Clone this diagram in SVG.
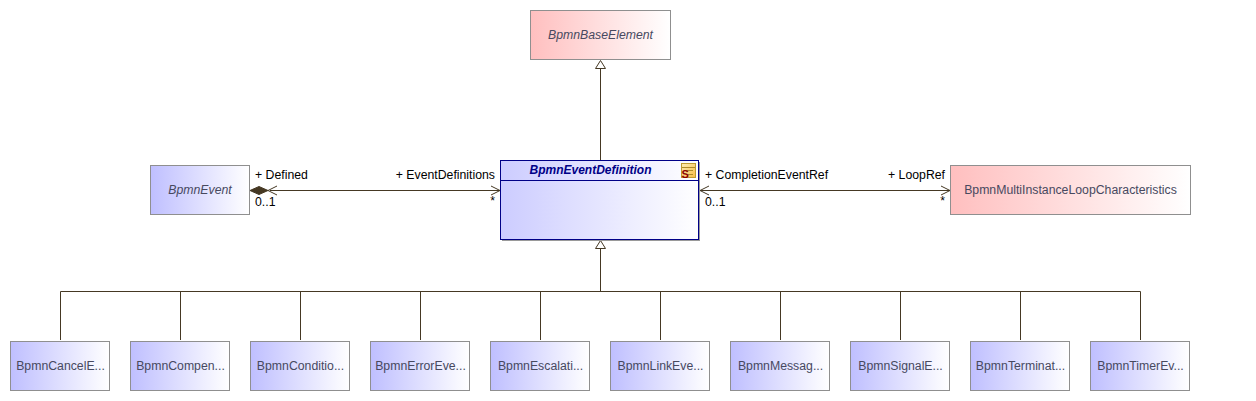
<svg xmlns="http://www.w3.org/2000/svg" width="1256" height="401" viewBox="0 0 1256 401">
<style>
text{font-family:"Liberation Sans",Arial,sans-serif;font-size:12.27px}
.n{stroke:#8f8f8f;stroke-width:1;shape-rendering:crispEdges}
.l{fill:#47495f;text-anchor:middle}
.c{fill:none;stroke:#453823;stroke-width:1}
.t{fill:#000}
.v{fill:#fff;stroke:#453823;stroke-width:1}
</style>
<defs>
<linearGradient id="b"><stop offset="0" stop-color="#bfbfff"/><stop offset="1" stop-color="#fff"/></linearGradient>
<linearGradient id="r"><stop offset="0" stop-color="#ffbfbf"/><stop offset="1" stop-color="#fff"/></linearGradient>
<linearGradient id="m"><stop offset="0" stop-color="#ccccff"/><stop offset="1" stop-color="#fff"/></linearGradient>
<linearGradient id="i" x1="0" y1="0" x2="1" y2="1"><stop offset="0" stop-color="#ffedb5"/><stop offset="1" stop-color="#f8bd45"/></linearGradient>
</defs>
<g id="connectors">
<path class="c" d="M600.500 160V69"/>
<path class="v" d="M600.500 60.500L595.500 68.500H605.500Z"/>
<path class="c" d="M270 190.500H500M491 186L500 190.500L491 195"/>
<path class="c" d="M268 190.500L277 186M268 190.500L277 195"/>
<path d="M250 190.500L259 186.500L268 190.500L259 194.500Z" fill="#453823" stroke="#453823"/>
<path class="c" d="M700 190.500H950M941 186L950 190.500L941 195M709 186L700 190.500L709 195"/>
<path class="c" d="M600.500 249V291.500M60.500 340V291.500H1140.500V340M180.500 291.500V340M300.500 291.500V340M420.500 291.500V340M540.500 291.500V340M660.500 291.500V340M780.500 291.500V340M900.500 291.500V340M1020.500 291.500V340"/>
<path class="v" d="M600.500 240.500L595.500 248.500H605.500Z"/>
</g>
<g id="conn-labels">
<text class="t" x="255" y="179">+ Defined</text>
<text class="t" x="255" y="206">0..1</text>
<text class="t" x="495" y="179" text-anchor="end">+ EventDefinitions</text>
<text class="t" x="495" y="205" text-anchor="end">*</text>
<text class="t" x="705" y="179">+ CompletionEventRef</text>
<text class="t" x="705" y="206">0..1</text>
<text class="t" x="945" y="179" text-anchor="end">+ LoopRef</text>
<text class="t" x="945" y="205" text-anchor="end">*</text>
</g>
<g id="BpmnBaseElement"><rect class="n" x="530.500" y="10.500" width="140" height="49" fill="url(#r)"/><text class="l" x="600.500" y="39" font-style="italic">BpmnBaseElement</text></g>
<g id="BpmnEvent"><rect class="n" x="150.500" y="165.500" width="99" height="49" fill="url(#b)"/><text class="l" x="200" y="194" font-style="italic">BpmnEvent</text></g>
<g id="BpmnMultiInstanceLoopCharacteristics"><rect class="n" x="950.500" y="165.500" width="240" height="49" fill="url(#r)"/><text class="l" x="1070.500" y="194">BpmnMultiInstanceLoopCharacteristics</text></g>
<g id="BpmnEventDefinition">
<path d="M699.500 162V240.500H502" fill="none" stroke="#9a9a9a" shape-rendering="crispEdges"/>
<rect x="500.500" y="160.500" width="198" height="79" fill="url(#m)" stroke="#000087" stroke-width="1" shape-rendering="crispEdges"/>
<path d="M501 180.500H698" stroke="#000087" stroke-width="1" shape-rendering="crispEdges"/>
<text x="590.500" y="174" text-anchor="middle" fill="#000087" font-weight="bold" font-style="italic" style="font-size:12px">BpmnEventDefinition</text>
<rect x="681.500" y="163.500" width="14" height="14" fill="url(#i)" stroke="#c09a30"/>
<path d="M682 167.500H695M684 170.500H693M688 174.500H693" stroke="#b08a28"/>
<text x="681.500" y="178" fill="#8b0000" font-weight="bold" style="font-size:11px">S</text>
</g>
<g id="BpmnCancelEventDefinition"><rect class="n" x="10.500" y="341.500" width="99" height="49" fill="url(#b)"/><text class="l" x="60.500" y="370">BpmnCancelE...</text></g>
<g id="BpmnCompensateEventDefinition"><rect class="n" x="130.500" y="341.500" width="99" height="49" fill="url(#b)"/><text class="l" x="180.500" y="370">BpmnCompen...</text></g>
<g id="BpmnConditionalEventDefinition"><rect class="n" x="250.500" y="341.500" width="99" height="49" fill="url(#b)"/><text class="l" x="300.500" y="370">BpmnConditio...</text></g>
<g id="BpmnErrorEventDefinition"><rect class="n" x="370.500" y="341.500" width="99" height="49" fill="url(#b)"/><text class="l" x="420.500" y="370">BpmnErrorEve...</text></g>
<g id="BpmnEscalationEventDefinition"><rect class="n" x="490.500" y="341.500" width="99" height="49" fill="url(#b)"/><text class="l" x="540.500" y="370">BpmnEscalati...</text></g>
<g id="BpmnLinkEventDefinition"><rect class="n" x="610.500" y="341.500" width="99" height="49" fill="url(#b)"/><text class="l" x="660.500" y="370">BpmnLinkEve...</text></g>
<g id="BpmnMessageEventDefinition"><rect class="n" x="730.500" y="341.500" width="99" height="49" fill="url(#b)"/><text class="l" x="780.500" y="370">BpmnMessag...</text></g>
<g id="BpmnSignalEventDefinition"><rect class="n" x="850.500" y="341.500" width="99" height="49" fill="url(#b)"/><text class="l" x="900.500" y="370">BpmnSignalE...</text></g>
<g id="BpmnTerminateEventDefinition"><rect class="n" x="970.500" y="341.500" width="99" height="49" fill="url(#b)"/><text class="l" x="1020.500" y="370">BpmnTerminat...</text></g>
<g id="BpmnTimerEventDefinition"><rect class="n" x="1090.500" y="341.500" width="99" height="49" fill="url(#b)"/><text class="l" x="1140.500" y="370">BpmnTimerEv...</text></g>
</svg>
